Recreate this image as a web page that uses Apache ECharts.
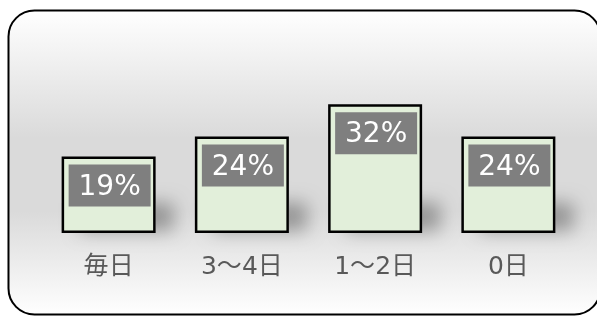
<!DOCTYPE html>
<html>
<head>
<meta charset="utf-8">
<style>
html,body{margin:0;padding:0;background:#ffffff;}
#chart{width:597px;height:316px;}
</style>
<script src="https://cdn.jsdelivr.net/npm/echarts@6/dist/echarts.min.js"></script>
</head>
<body>
<div id="chart"></div>
<script>
const categories = ['毎日', '3〜4日', '1〜2日', '0日'];
const values = [19, 24, 32, 24];

const chart = echarts.init(document.getElementById('chart'), null, {renderer: 'canvas'});
const FONT = '"DejaVu Sans", "Noto Sans CJK JP", sans-serif';
const BAR_W = 94;

chart.setOption({
  animation: false,
  graphic: [{
    type: 'rect',
    z: -10,
    shape: {x: 8.5, y: 10.5, width: 592, height: 304, r: 26},
    style: {
      fill: new echarts.graphic.LinearGradient(0, 0, 0, 1, [
        {offset: 0, color: '#ffffff'},
        {offset: 0.42, color: '#dadada'},
        {offset: 0.66, color: '#dadada'},
        {offset: 1, color: '#ffffff'}
      ]),
      stroke: '#000000',
      lineWidth: 2
    }
  }],
  grid: {left: 42, right: 22, top: 72, bottom: 83},
  xAxis: {
    type: 'category',
    data: categories,
    axisLine: {show: false},
    axisTick: {show: false},
    axisLabel: {fontFamily: FONT, fontSize: 25, color: '#595959', margin: 22}
  },
  yAxis: {
    type: 'value',
    min: 0,
    max: 40,
    show: false
  },
  series: [{
    type: 'custom',
    z: 1,
    data: values.map((v, i) => [i, v]),
    renderItem: function (params, api) {
      const base = api.coord([api.value(0), 0]);
      return {
        type: 'rect',
        shape: {x: base[0] - BAR_W / 2, y: base[1] - 30, width: BAR_W, height: 28},
        style: {
          fill: '#c8c8c8',
          shadowBlur: 18,
          shadowOffsetX: 18,
          shadowColor: 'rgba(0,0,0,0.32)'
        }
      };
    }
  }, {
    type: 'bar',
    z: 3,
    data: values,
    barWidth: BAR_W,
    itemStyle: {color: '#e2efda', borderColor: '#000000', borderWidth: 2.5},
    label: {
      show: true,
      position: 'insideTop',
      distance: 8,
      offset: [1, 0],
      formatter: '{c}%',
      fontFamily: FONT,
      fontSize: 28,
      color: '#ffffff',
      backgroundColor: '#7f7f7f',
      width: 62,
      align: 'center',
      lineHeight: 26,
      padding: [10, 10, 6, 10]
    }
  }]
});
</script>
</body>
</html>
